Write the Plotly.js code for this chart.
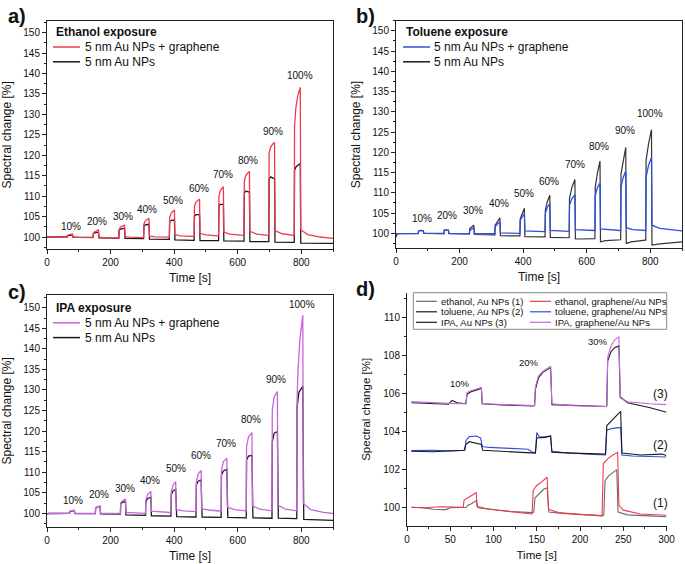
<!DOCTYPE html>
<html><head><meta charset="utf-8">
<script src="https://cdn.plot.ly/plotly-3.0.1.min.js"></script>
<style>html,body{margin:0;padding:0;background:#fff}#c{width:685px;height:564px}</style>
</head><body><div id="c"></div>
<script>
// ---------- DATA (time [s], spectral change [%]) ----------
// Panel a: ethanol exposure
const ethanolGraphene = [[0,100],[40,100],[60,99.95],
[63,99.95],[64,100.4],[70,100.6],[80,100.8],[81.5,100.0],[100,99.9],[143,99.85],
[145,99.85],[146,100.9],[150,101.3],[162,101.7],[163.5,99.95],[180,99.85],[224,99.8],
[226,99.8],[227,101.8],[231,102.4],[237,102.7],[244,102.9],[245.5,100.1],[260,99.95],[302,99.85],
[304,99.85],[305,103.2],[309,103.9],[315,104.3],[321,104.6],[322.5,100.2],[340,100.05],[383,99.95],
[385,99.95],[386,104.8],[390,105.7],[395,106.2],[401,106.6],[402.5,100.6],[420,100.3],[461,100.15],
[463,100.15],[464,107.4],[468,108.4],[474,108.9],[480,109.3],[481.5,100.9],[500,100.5],[538,100.3],
[540,100.3],[541,109.9],[545,111.2],[550,111.9],[555,112.3],[556.5,101.2],[575,100.7],[618,100.4],
[620,100.4],[621,113.5],[625,114.9],[631,115.6],[637,116.0],[638.5,101.4],[660,100.7],[696,100.4],
[698,100.4],[699,120.5],[703,121.8],[710,122.7],[716,123.1],[717.5,101.6],[740,100.8],[776,100.4],
[778,100.4],[779,127],[783,131.5],[789,134.5],[795,136.3],[797,136.6],[798.5,101.8],[820,100.6],[860,100],[900,99.65]];
const ethanolAu = [[0,100],[60,100],
[63,100],[64,100.3],[72,100.45],[80,100.5],[81.5,99.95],[143,99.9],
[145,99.9],[146,100.8],[152,101.1],[162,101.2],[163.5,99.8],[224,99.75],
[226,99.75],[227,101.7],[233,102.0],[244,102.1],[245.5,99.65],[302,99.6],
[304,99.6],[305,102.7],[311,103.0],[321,103.1],[322.5,99.5],[383,99.4],
[385,99.4],[386,103.8],[392,104.1],[401,104.2],[402.5,99.3],[461,99.2],
[463,99.2],[464,105.1],[470,105.5],[480,105.5],[481.5,99.15],[538,99.1],
[540,99.1],[541,107.6],[546,108.0],[555,108.0],[556.5,99.05],[618,99.0],
[620,99.0],[621,110.8],[626,111.2],[637,111.0],[638.5,98.9],[696,98.85],
[698,98.85],[699,114.2],[704,114.7],[716,114.2],[717.5,98.75],[776,98.7],
[778,98.7],[779,116.3],[784,117.2],[797,118.0],[798.5,98.5],[900,98.45]];

// Panel b: toluene exposure
const tolueneGraphene = [[0,99.9],[68,100.0],
[70,100.0],[71,100.6],[78,100.7],[86,100.6],[87.5,100.05],[149,99.95],
[151,99.95],[152,100.8],[165,100.75],[166.5,100.0],[229,99.9],
[231,99.9],[232,100.7],[238,101.1],[245,101.4],[246.5,99.95],[309,99.9],
[311,99.9],[312,101.6],[319,102.3],[327,102.8],[328.5,100.1],[388,100.0],
[390,100.0],[391,103.2],[397,104.1],[404,104.7],[405.5,100.6],[467,100.4],
[469,100.4],[470,104.9],[476,106.4],[484,107.3],[485.5,100.7],[543,100.5],
[545,100.5],[546,106.9],[553,108.5],[563,109.5],[564.5,100.9],[624,100.7],
[626,100.7],[627,109.4],[634,111.3],[642,112.4],[643.5,101.1],[705,100.7],
[707,100.7],[708,111.4],[715,113.8],[723,115.4],[724.5,101.4],[745,100.9],[784,100.7],
[786,100.7],[787,113.9],[795,116.9],[804,118.7],[805.5,102.0],[830,101.2],[900,100.6]];
const tolueneAu = [[0,99.0],[3,99.8],[10,99.9],[68,99.9],
[70,99.9],[71,100.6],[78,100.7],[86,100.6],[87.5,100.0],[149,99.9],
[151,99.9],[152,100.8],[165,100.8],[166.5,99.9],[229,99.85],
[231,99.85],[232,101.2],[238,101.6],[245,102.0],[246.5,99.7],[309,99.6],
[311,99.6],[312,102.0],[319,103.0],[327,103.8],[328.5,99.4],[388,99.35],
[390,99.35],[391,103.6],[397,105.0],[404,106.2],[405.5,99.2],[467,99.1],
[469,99.1],[470,105.7],[476,107.8],[484,109.4],[485.5,99.0],[543,98.9],
[545,98.9],[546,108.6],[553,111.2],[563,113.3],[564.5,98.6],[580,98.6],[624,98.7],
[626,98.7],[627,111.4],[634,115.0],[642,117.8],[643.5,97.9],[660,98.2],[705,98.4],
[707,98.4],[708,114.7],[715,118.3],[723,121.2],[724.5,97.5],[740,97.9],[784,98.3],
[786,98.3],[787,118.0],[795,122.2],[804,125.6],[805.5,97.1],[830,97.4],[900,97.9]];

// Panel c: IPA exposure
const ipaGraphene = [[0,99.8],[5,99.95],[69,100],
[71,100],[72,100.5],[78,100.7],[86,100.8],[87.5,100.0],[150,99.95],
[152,99.95],[153,101.2],[159,101.6],[167,101.8],[168.5,100.0],[229,99.95],
[231,99.95],[232,102.5],[238,103.1],[247,103.4],[248.5,100.2],[308,100.0],
[310,100.0],[311,103.2],[317,104.6],[327,105.3],[328.5,100.5],[388,100.2],
[390,100.2],[391,105.3],[397,106.9],[405,107.7],[406.5,100.9],[430,100.6],[467,100.4],
[469,100.4],[470,107.7],[476,109.6],[485,110.4],[486.5,101.1],[510,100.8],[546,100.5],
[548,100.5],[549,110.5],[555,112.6],[566,113.4],[567.5,101.5],[590,100.9],[625,100.6],
[627,100.6],[628,116.2],[634,118.6],[645,119.6],[646.5,101.8],[670,101.0],[706,100.6],
[708,100.6],[709,125.1],[715,128.4],[725,129.6],[726.5,102.0],[750,101.0],[784,100.6],
[786,100.6],[787,128],[790,135],[796,142.5],[802,146.8],[805,148.2],[806.5,102.4],[830,100.9],[870,100.2],[900,99.95]];
const ipaAu = [[0,99.8],[5,99.95],[69,100],
[71,100],[72,100.4],[78,100.6],[86,100.6],[87.5,99.95],[150,99.9],
[152,99.9],[153,101.2],[159,101.6],[167,101.6],[168.5,99.85],[229,99.8],
[231,99.8],[232,102.3],[238,102.7],[247,102.8],[248.5,99.6],[308,99.5],
[310,99.5],[311,102.8],[317,103.6],[327,103.9],[328.5,99.4],[388,99.3],
[390,99.3],[391,104.5],[397,105.5],[405,105.8],[406.5,100.4],[408,99.2],[467,99.1],
[469,99.1],[470,106.9],[476,107.8],[485,108.1],[486.5,100.8],[488,99.1],[546,99.0],
[548,99.0],[549,109.3],[555,110.3],[566,110.7],[567.5,101.5],[569,99.0],[625,98.9],
[627,98.9],[628,113.0],[634,113.9],[645,114.1],[646.5,101.8],[648,98.9],[706,98.8],
[708,98.8],[709,117.4],[715,119.5],[725,119.9],[726.5,102.0],[728,98.8],[784,98.7],
[786,98.7],[787,125.9],[793,129.5],[805,130.9],[806.5,102.4],[808,98.5],[900,98.3]];

// Panel d: low-concentration detail (offset curves)
const dEthanolGraphene = [[5,100.0],[20,99.98],[40,100.03],[62,100.0],[65,100.0],[66,100.38],[72,100.55],[78,100.72],[80,100.77],[81,100.05],[90,99.95],[110,99.82],[130,99.72],[143,99.62],[144.5,99.65],[146,100.9],[150,101.15],[156,101.35],[162,101.58],[163.5,99.9],[175,99.72],[200,99.63],[224,99.54],[225.5,99.56],[227,102.3],[232,102.55],[238,102.75],[243.5,102.89],[245,100.1],[250,99.85],[270,99.65],[300,99.58]];
const dEthanolAu = [[5,100.0],[20,99.97],[30,99.9],[45,99.88],[50,99.98],[67,100.0],[68.5,100.0],[70,100.1],[75,100.2],[80,100.35],[82,99.98],[95,99.9],[120,99.78],[145,99.72],[146.5,99.75],[148,100.5],[153,100.75],[158,100.95],[162,101.03],[164,99.75],[180,99.68],[210,99.6],[226,99.55],[227.5,99.6],[229,101.4],[233,101.65],[238,101.85],[242.5,101.98],[244,99.75],[255,99.6],[280,99.55],[300,99.5]];
const dTolueneGraphene = [[5,102.98],[30,103.0],[50,102.97],[65,102.98],[67,103.0],[68,103.5],[72,103.72],[80,103.75],[85,103.65],[87,103.2],[95,103.15],[120,103.1],[140,103.05],[145,102.88],[148.5,102.9],[150,103.93],[153,103.7],[160,103.72],[166,103.75],[167.5,102.95],[180,102.88],[210,102.8],[228,102.75],[229.5,102.75],[231,104.07],[238,104.15],[247,104.2],[248.5,102.75],[260,102.7],[300,102.65]];
const dTolueneAu = [[5,102.95],[30,102.92],[66,103.0],[68,103.3],[72,103.45],[80,103.35],[86,103.3],[87.5,103.0],[110,102.95],[140,102.9],[148.5,102.85],[150,103.65],[155,103.65],[160,103.68],[166,103.75],[167.5,102.9],[190,102.85],[229.5,102.8],[231,104.3],[236,104.55],[242,104.8],[247,105.05],[248.5,102.85],[270,102.75],[295,102.8],[300,102.72]];
const dIpaGraphene = [[5,105.56],[30,105.5],[60,105.45],[68,105.45],[69.5,106.05],[75,106.15],[82,106.22],[86,106.3],[87,105.45],[110,105.4],[146,105.33],[147.5,105.35],[148.5,106.35],[152,106.9],[157,107.15],[162,107.3],[166,107.42],[167.5,105.45],[190,105.35],[230,105.3],[231,105.35],[232,107.9],[236,108.5],[240,108.8],[245,108.98],[246.5,105.75],[255,105.55],[280,105.45],[300,105.4]];
const dIpaAu = [[5,105.5],[30,105.45],[48,105.42],[52,105.62],[58,105.5],[68,105.45],[69.5,105.95],[75,106.1],[82,106.2],[86,106.25],[87,105.45],[110,105.38],[146,105.33],[147.5,105.35],[148.5,106.2],[152,106.8],[157,107.1],[162,107.25],[166,107.35],[167.5,105.4],[190,105.35],[230,105.3],[231,105.35],[232,107.7],[236,108.2],[240,108.4],[245,108.49],[246.5,105.8],[255,105.5],[280,105.25],[300,105.0]];

// Labels
const pctLabels = ['10%','20%','30%','40%','50%','60%','70%','80%','90%','100%'];
const dPctLabels = ['10%','20%','30%'];
const dGroupLabels = ['(1)','(2)','(3)'];
const panelTitles = ['Ethanol exposure','Toluene exposure','IPA exposure'];
const seriesNames = ['5 nm Au NPs + graphene','5 nm Au NPs'];
const dNames = ['ethanol, Au NPs (1)','toluene, Au NPs (2)','IPA, Au NPs (3)','ethanol, graphene/Au NPs','toluene, graphene/Au NPs','IPA, graphene/Au NPs'];

// ---------- STYLE / LAYOUT ----------
const W = 685, H = 564;
const F = 'Arial, "Liberation Sans", sans-serif';
const RED = '#f2384f', BLUE = '#2f4fe0', MAG = '#c864dc', BLK = '#1a1a1a', GRY = '#6a6a6a';
const px = v => v / W, py = v => 1 - v / H;

function tr(pts, color, xa, ya, name, w) {
  return {x: pts.map(p => p[0]), y: pts.map(p => p[1]), type: 'scatter', mode: 'lines',
    line: {color: color, width: w || 1.3}, xaxis: xa, yaxis: ya, name: name, showlegend: false, hoverinfo: 'skip'};
}
const data = [
  tr(ethanolAu, BLK, 'x', 'y', seriesNames[1]), tr(ethanolGraphene, RED, 'x', 'y', seriesNames[0]),
  tr(tolueneAu, '#333', 'x2', 'y2', seriesNames[1], 1.2), tr(tolueneGraphene, BLUE, 'x2', 'y2', seriesNames[0]),
  tr(ipaAu, BLK, 'x3', 'y3', seriesNames[1]), tr(ipaGraphene, MAG, 'x3', 'y3', seriesNames[0]),
  tr(dEthanolAu, GRY, 'x4', 'y4', dNames[0], 1.1), tr(dEthanolGraphene, RED, 'x4', 'y4', dNames[3], 1.1),
  tr(dTolueneGraphene, BLUE, 'x4', 'y4', dNames[4], 1.1), tr(dTolueneAu, BLK, 'x4', 'y4', dNames[1], 1.1),
  tr(dIpaAu, BLK, 'x4', 'y4', dNames[2], 1.1), tr(dIpaGraphene, MAG, 'x4', 'y4', dNames[5], 1.1)
];

const tickF = {family: F, size: 10, color: '#111'};
const titF = {family: F, size: 12, color: '#111'};
function xax(dom, rng, dt, mdt, anchor, mirror, standoff) {
  return {domain: dom, range: rng, anchor: anchor, dtick: dt, tick0: 0, ticks: 'outside', ticklen: 4, tickwidth: 1,
    tickcolor: '#222', showline: true, linecolor: '#222', linewidth: 1, mirror: mirror, showgrid: false, zeroline: false,
    tickfont: tickF, minor: {dtick: mdt, ticks: 'outside', ticklen: 2, tickcolor: '#222', showgrid: false},
    title: {text: 'Time [s]', font: titF, standoff: standoff}};
}
function yax(dom, rng, dt, mdt, anchor, mirror, standoff) {
  return {domain: dom, range: rng, anchor: anchor, dtick: dt, tick0: 100, ticks: 'outside', ticklen: 4, tickwidth: 1,
    tickcolor: '#222', showline: true, linecolor: '#222', linewidth: 1, mirror: mirror, showgrid: false, zeroline: false,
    tickfont: tickF, minor: {dtick: mdt, ticks: 'outside', ticklen: 2, tickcolor: '#222', showgrid: false},
    title: {text: 'Spectral change [%]', font: titF, standoff: standoff}};
}

const ann = [], shp = [];
function txt(x, y, s, size, opts) {
  ann.push(Object.assign({xref: 'paper', yref: 'paper', x: px(x), y: py(y), text: s, showarrow: false,
    xanchor: 'left', yanchor: 'middle', font: {family: F, size: size, color: '#111'}}, opts || {}));
}
function ln(x0, x1, y, c, w) {
  shp.push({type: 'line', xref: 'paper', yref: 'paper', x0: px(x0), x1: px(x1), y0: py(y), y1: py(y), line: {color: c, width: w || 1.5}});
}
// panel letters
txt(17, 15.5, '<b>a)</b>', 20, {xanchor: 'center'});
txt(365, 15.5, '<b>b)</b>', 20, {xanchor: 'center'});
txt(17, 292, '<b>c)</b>', 20, {xanchor: 'center'});
txt(366, 289, '<b>d)</b>', 20, {xanchor: 'center'});
// legends a-c
const legs = [[53, 32.5, RED], [403, 32.5, BLUE], [53, 308.3, MAG]];
legs.forEach((L, i) => {
  txt(L[0] + 0.5, L[1], '<b>' + panelTitles[i] + '</b>', 12);
  ln(L[0], L[0] + 27, L[1] + 14.5, L[2]); txt(L[0] + 29.5, L[1] + 14.5, seriesNames[0], 12);
  ln(L[0], L[0] + 27, L[1] + 29.3, BLK); txt(L[0] + 29.5, L[1] + 29.3, seriesNames[1], 12);
});
// legend d
shp.push({type: 'rect', xref: 'paper', yref: 'paper', x0: px(413.3), x1: px(666.7), y0: py(292.7), y1: py(329.3), line: {color: '#888', width: 1}});
const dCol1 = [GRY, BLK, BLK], dCol2 = [RED, BLUE, MAG], rows = [301.3, 311.8, 322.3];
rows.forEach((y, i) => {
  ln(416, 437, y, dCol1[i], 1.2); txt(439, y, dNames[i], 9.5);
  ln(530, 551, y, dCol2[i], 1.2); txt(553, y, dNames[i + 3], 9.5);
});
// percent annotations (placed in data coordinates)
const posA = [[75.6,102.6],[158,103.8],[240,105.0],[314,106.8],[396,108.9],[478,111.8],[555,115.2],[631,118.8],[711,125.9],[795,139.4]];
const posB = [[81,103.6],[159.5,104.4],[243,105.7],[323,107.3],[403,109.8],[482,112.7],[562,117.0],[639,121.5],[720,125.5],[799,129.6]];
const posC = [[83,103.2],[164.5,104.5],[246,106.0],[325,108.0],[406,110.8],[485,114.0],[564,116.9],[642,122.9],[721,132.6],[802,150.9]];
[[posA, 'x', 'y'], [posB, 'x2', 'y2'], [posC, 'x3', 'y3']].forEach(P => {
  P[0].forEach((p, i) => ann.push({xref: P[1], yref: P[2], x: p[0], y: p[1], text: pctLabels[i], showarrow: false,
    xanchor: 'center', yanchor: 'middle', font: {family: F, size: 10, color: '#111'}}));
});
const posD = [[61.3,106.53],[141.4,107.63],[220.5,108.71]];
posD.forEach((p, i) => ann.push({xref: 'x4', yref: 'y4', x: p[0], y: p[1], text: dPctLabels[i], showarrow: false,
  xanchor: 'center', yanchor: 'middle', font: {family: F, size: 9.5, color: '#111'}}));
const posG = [[293.3,100.24],[293.3,103.3],[293.3,105.94]];
posG.forEach((p, i) => ann.push({xref: 'x4', yref: 'y4', x: p[0], y: p[1], text: dGroupLabels[i], showarrow: false,
  xanchor: 'center', yanchor: 'middle', font: {family: F, size: 12, color: '#111'}}));

const layout = {
  width: W, height: H, margin: {l: 0, r: 0, t: 0, b: 0}, paper_bgcolor: '#fff', plot_bgcolor: '#fff', showlegend: false,
  xaxis: xax([47/W, 333/W], [0, 900], 200, 100, 'y', true, 6),
  yaxis: yax([1-249/H, 1-20.7/H], [97.07, 152.9], 5, 2.5, 'x', true, 9),
  xaxis2: xax([396/W, 682/W], [0, 900], 200, 100, 'y2', true, 6),
  yaxis2: yax([1-248.3/H, 1-20.7/H], [96.3, 152.5], 5, 2.5, 'x2', true, 9),
  xaxis3: xax([47/W, 333/W], [0, 900], 200, 100, 'y3', true, 6),
  yaxis3: yax([1-526.7/H, 1-295/H], [96.74, 153.1], 5, 2.5, 'x3', true, 9),
  xaxis4: xax([407/W, 666.5/W], [0, 300], 50, 25, 'y4', false, 6),
  yaxis4: yax([1-526/H, 1-292.7/H], [99.016, 111.29], 2, 1, 'x4', false, 10),
  annotations: ann, shapes: shp
};
layout.xaxis4.title.font = {family: F, size: 11.5, color: '#111'};
layout.yaxis4.title.font = {family: F, size: 11.5, color: '#111'};
Plotly.newPlot('c', data, layout, {staticPlot: true, displayModeBar: false});
</script></body></html>
